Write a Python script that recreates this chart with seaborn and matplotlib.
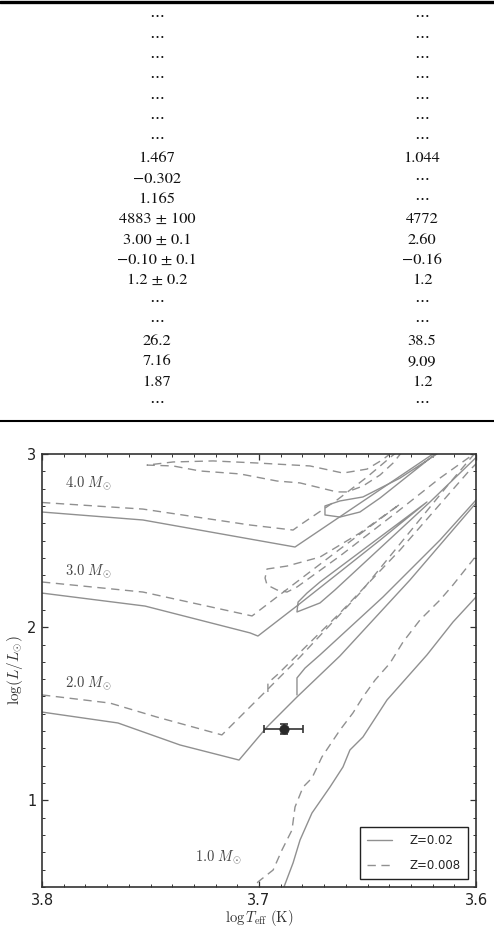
import numpy as np
import pandas as pd
import matplotlib
matplotlib.use("Agg")
import matplotlib.pyplot as plt
from matplotlib.lines import Line2D
from matplotlib.ticker import MultipleLocator, FixedLocator, FixedFormatter
import seaborn as sns

# ---------------- table values ----------------
table_left = ["⋯"] * 7 + ["1.467", "−0.302", "1.165", "4883 ± 100", "3.00 ± 0.1",
                          "−0.10 ± 0.1", "1.2 ± 0.2", "⋯", "⋯", "26.2", "7.16", "1.87", "⋯"]
table_right = ["⋯"] * 7 + ["1.044", "⋯", "⋯", "4772", "2.60", "−0.16", "1.2",
                           "⋯", "⋯", "38.5", "9.09", "1.2", "⋯"]

# ---------------- evolutionary tracks (logTeff, logL) ----------------
# Z = 0.02 (solid)
s4_ms_T = [3.800, 3.7535, 3.7041, 3.6834, 3.6184]
s4_ms_L = [2.665, 2.619, 2.509, 2.463, 3.012]
s4_loop_T = [3.6166, 3.6350, 3.6521, 3.6627, 3.6696, 3.6696, 3.6627, 3.6535, 3.6442, 3.6175]
s4_loop_L = [3.012, 2.861, 2.752, 2.729, 2.700, 2.648, 2.636, 2.665, 2.746, 3.012]
s3_T = [3.800, 3.7525, 3.7041, 3.7005, 3.6820, 3.6627, 3.6442, 3.6226, 3.6719, 3.6779,
        3.6820, 3.6825, 3.6719, 3.6650, 3.6212, 3.5959]
s3_L = [2.197, 2.122, 1.967, 1.949, 2.128, 2.319, 2.503, 2.723, 2.261, 2.197,
        2.145, 2.088, 2.140, 2.215, 2.723, 3.029]
s2_rgb_T = [3.800, 3.7650, 3.7364, 3.7092, 3.6963, 3.6825, 3.6627, 3.6304, 3.6000, 3.5959]
s2_rgb_L = [1.510, 1.447, 1.320, 1.233, 1.424, 1.597, 1.834, 2.273, 2.717, 2.775]
s2_agb_T = [3.6825, 3.6825, 3.6788, 3.6719, 3.6429, 3.6166, 3.6000, 3.5959]
s2_agb_L = [1.609, 1.707, 1.764, 1.840, 2.174, 2.503, 2.734, 2.792]
s1_T = [3.6894, 3.6885, 3.6843, 3.6811, 3.6756, 3.6673, 3.6613, 3.6581, 3.6521, 3.6410,
        3.6226, 3.6106, 3.6000, 3.5959]
s1_L = [0.454, 0.500, 0.639, 0.771, 0.927, 1.077, 1.193, 1.291, 1.366, 1.580,
        1.840, 2.030, 2.174, 2.226]

# Z = 0.008 (dashed)
d4_ms_T = [3.800, 3.7535, 3.7041, 3.6843, 3.6811, 3.6641, 3.6502, 3.6382, 3.6350]
d4_ms_L = [2.720, 2.682, 2.590, 2.561, 2.590, 2.734, 2.867, 2.994, 3.023]
d4_loop_T = [3.6341, 3.6382, 3.6442, 3.6521, 3.6594, 3.6641, 3.6811, 3.6917, 3.7088, 3.7272,
             3.7396, 3.7516, 3.7396, 3.7212, 3.7009, 3.6765, 3.6613, 3.6502, 3.6433, 3.6373]
d4_loop_L = [3.012, 2.948, 2.879, 2.815, 2.781, 2.781, 2.833, 2.844, 2.885, 2.902,
             2.931, 2.936, 2.954, 2.960, 2.948, 2.931, 2.890, 2.913, 2.965, 3.023]
d3_T = [3.800, 3.7535, 3.7032, 3.6857, 3.6627, 3.6350, 3.6535, 3.6719, 3.6871, 3.6963,
        3.6972, 3.6963, 3.6917, 3.6871, 3.6825, 3.6627, 3.6364, 3.6166, 3.5982]
d3_L = [2.261, 2.203, 2.065, 2.232, 2.451, 2.711, 2.544, 2.405, 2.353, 2.336,
        2.284, 2.244, 2.215, 2.203, 2.232, 2.411, 2.665, 2.861, 3.025]
d2_rgb_T = [3.800, 3.7687, 3.7470, 3.7171, 3.7009, 3.6811, 3.6535, 3.6129, 3.6000, 3.5982]
d2_rgb_L = [1.609, 1.562, 1.481, 1.378, 1.580, 1.828, 2.197, 2.821, 3.012, 3.025]
d2_agb_T = [3.6959, 3.6959, 3.6917, 3.6627, 3.6350, 3.6028, 3.5982]
d2_agb_L = [1.626, 1.678, 1.724, 2.082, 2.446, 2.908, 2.965]
d1_T = [3.7041, 3.7005, 3.6935, 3.6894, 3.6848, 3.6834, 3.6797, 3.6756, 3.6710, 3.6627,
        3.6567, 3.6521, 3.6465, 3.6396, 3.6336, 3.6258, 3.6166, 3.6106, 3.6000, 3.5959]
d1_L = [0.454, 0.529, 0.598, 0.714, 0.829, 0.962, 1.077, 1.129, 1.251, 1.406,
        1.505, 1.597, 1.695, 1.793, 1.915, 2.042, 2.157, 2.244, 2.411, 2.475]

# observed star
star_T, star_L = 3.6887, 1.412
star_Terr, star_Lerr = 0.0089, 0.03

mass_labels = ["4.0", "3.0", "2.0", "1.0"]
z_labels = ["Z=0.02", "Z=0.008"]

# ---------------- build dataframe ----------------
segments = [
    ("s4a", z_labels[0], s4_ms_T, s4_ms_L),
    ("s4b", z_labels[0], s4_loop_T, s4_loop_L),
    ("s3", z_labels[0], s3_T, s3_L),
    ("s2a", z_labels[0], s2_rgb_T, s2_rgb_L),
    ("s2b", z_labels[0], s2_agb_T, s2_agb_L),
    ("s1", z_labels[0], s1_T, s1_L),
    ("d4a", z_labels[1], d4_ms_T, d4_ms_L),
    ("d4b", z_labels[1], d4_loop_T, d4_loop_L),
    ("d3", z_labels[1], d3_T, d3_L),
    ("d2a", z_labels[1], d2_rgb_T, d2_rgb_L),
    ("d2b", z_labels[1], d2_agb_T, d2_agb_L),
    ("d1", z_labels[1], d1_T, d1_L),
]
rows = []
for seg, z, T, L in segments:
    for i, (t, l) in enumerate(zip(T, L)):
        rows.append({"seg": seg, "Z": z, "order": i, "logT": t, "logL": l})
df = pd.DataFrame(rows)

# ---------------- style ----------------
sns.set_theme(style="ticks")
plt.rcParams["font.family"] = ["DejaVu Sans"]
plt.rcParams["mathtext.fontset"] = "cm"

W, H = 494, 926
fig = plt.figure(figsize=(W / 100, H / 100), dpi=100)
fig.patch.set_facecolor("white")

# ---------------- table region ----------------
tab = fig.add_axes([0, 1 - 422 / H, 1, 422 / H])
tab.set_xlim(0, W)
tab.set_ylim(422, 0)
tab.axis("off")
row0, drow = 16.7, 20.3
for i, (a, b) in enumerate(zip(table_left, table_right)):
    y = row0 + i * drow
    for xc, s in ((157, a), (422, b)):
        tab.text(xc, y, s, ha="center", va="center", fontsize=11.8,
                 family=["STIXGeneral", "DejaVu Serif"], color="#111111")
fig.add_artist(Line2D([0, 1], [1 - 1.6 / H] * 2, color="black", lw=2.4,
                      transform=fig.transFigure))
fig.add_artist(Line2D([0, 1], [1 - 420.6 / H] * 2, color="black", lw=1.5,
                      transform=fig.transFigure))

# ---------------- HR diagram ----------------
x0, x1, y0, y1 = 42, 476, 454, 887
ax = fig.add_axes([x0 / W, 1 - y1 / H, (x1 - x0) / W, (y1 - y0) / H])
track_color = "#909090"
sns.lineplot(data=df, x="logT", y="logL", units="seg", estimator=None, sort=False,
             style="Z", dashes={z_labels[0]: "", z_labels[1]: (6, 4)},
             color=track_color, linewidth=1.0, legend=False, ax=ax)

ax.errorbar([star_T], [star_L], xerr=[star_Terr], yerr=[star_Lerr], fmt="none",
            ecolor="#333333", elinewidth=1.2, capsize=3, capthick=1.2, zorder=5)
sns.scatterplot(x=[star_T], y=[star_L], s=45, color="#2a2a2a", edgecolor="#2a2a2a",
                linewidth=0.5, zorder=6, ax=ax)

# mass labels
label_pos = [(3.7894, 2.833), (3.7894, 2.324), (3.7894, 1.678), (3.7295, 0.673)]
for m, (tx, ty) in zip(mass_labels, label_pos):
    ax.text(tx, ty, r"$%s\ M_{\odot}$" % m, ha="left", va="center",
            fontsize=10.5, color="#444444")

ax.set_xlim(3.8, 3.6)
ax.set_ylim(0.5, 3.0)
ax.xaxis.set_major_locator(FixedLocator([3.8, 3.7, 3.6]))
ax.xaxis.set_major_formatter(FixedFormatter(["3.8", "3.7", "3.6"]))
ax.xaxis.set_minor_locator(MultipleLocator(0.01))
ax.yaxis.set_major_locator(FixedLocator([1, 2, 3]))
ax.yaxis.set_major_formatter(FixedFormatter(["1", "2", "3"]))
ax.yaxis.set_minor_locator(MultipleLocator(0.1))
ax.tick_params(which="both", direction="in", top=True, right=True,
               color="#333333", labelcolor="#222222", labelsize=10.5)
ax.tick_params(which="major", length=4.5, width=0.9, pad=4)
ax.tick_params(which="minor", length=2.5, width=0.7)
for sp in ax.spines.values():
    sp.set_color("#333333")
    sp.set_linewidth(1.2)

ax.set_xlabel(r"$\log T_{\rm eff}\ {\rm (K)}$", fontsize=10.5, color="#333333")
ax.set_ylabel(r"$\log(L/L_{\odot})$", fontsize=11, color="#333333")
ax.xaxis.set_label_coords(0.5, -(917.5 - y1) / (y1 - y0))
ax.xaxis.label.set_va("center")
ax.yaxis.set_label_coords(-(x0 - 15) / (x1 - x0), 0.5)
ax.yaxis.label.set_va("center")

handles = [Line2D([], [], color=track_color, lw=1.0),
           Line2D([], [], color=track_color, lw=1.0, dashes=(6, 4))]
leg = ax.legend(handles, z_labels, loc="lower right", fontsize=8.5, frameon=True,
                fancybox=False, edgecolor="#222222", framealpha=1,
                handlelength=2.1, handletextpad=1.5, borderpad=0.6,
                labelspacing=1.0, borderaxespad=0.7)
leg.get_frame().set_linewidth(1.0)
for t in leg.get_texts():
    t.set_color("#222222")

fig.savefig("out.png", dpi=100, facecolor="white")
